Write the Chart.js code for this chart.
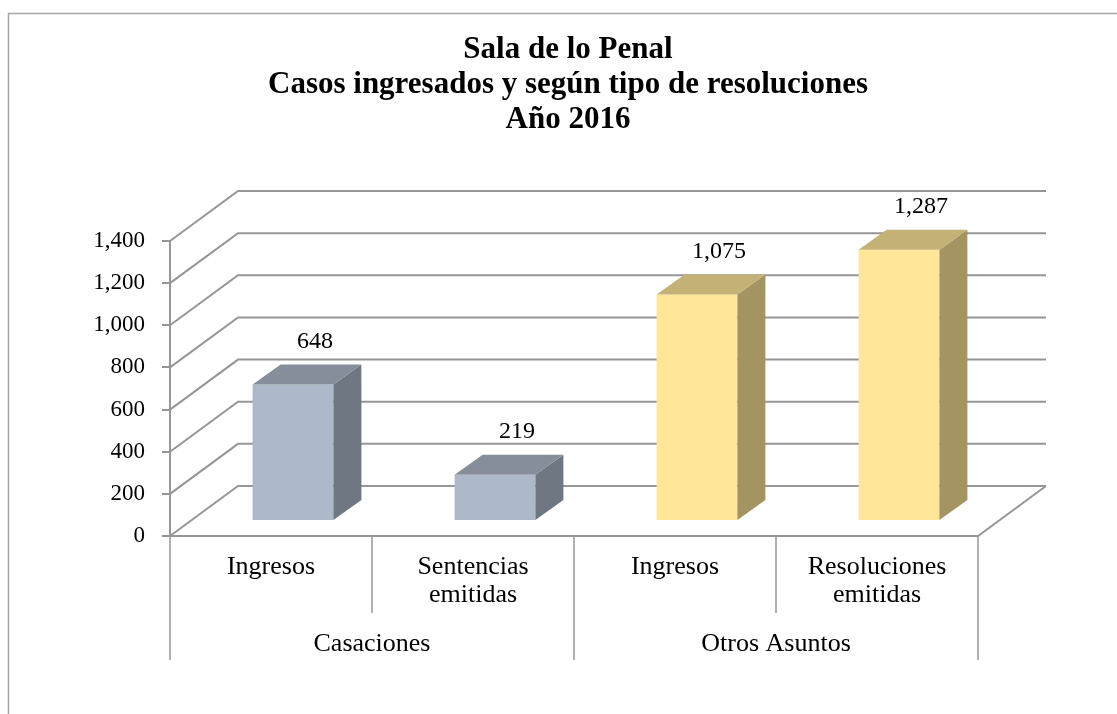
<!DOCTYPE html>
<html>
<head>
<meta charset="utf-8">
<script src="https://cdn.jsdelivr.net/npm/chart.js@4.4.0/dist/chart.umd.min.js"></script>
<style>
  body { margin: 0; background: #fff; }
  canvas { display: block; }
</style>
</head>
<body>
<canvas id="chart" width="1117" height="714"></canvas>
<script>
// Data
const titleLines = ['Sala de lo Penal', 'Casos ingresados y según tipo de resoluciones', 'Año 2016'];
const categories = ['Ingresos', ['Sentencias', 'emitidas'], 'Ingresos', ['Resoluciones', 'emitidas']];
const groups = ['Casaciones', 'Otros Asuntos'];
const groupSizes = [2, 2];
const casos = [648, 219, 1075, 1287];
const yMin = 0;
const yMax = 1400;
const yStep = 200;

// Colours of the three visible faces of each bar
const frontColors = ['#adb9ca', '#adb9ca', '#ffe699', '#ffe699'];
const sideColors = ['#6f7782', '#6f7782', '#a39461', '#a39461'];
const topColors = ['#858e9a', '#858e9a', '#c4b176', '#c4b176'];

const FONT = "'Liberation Serif', 'Times New Roman', serif";
const LINE = '#969696';
const WALL = { dx: 68, dy: -50 };   // depth of the floor / back wall
const FRONT = { dx: 22, dy: -15 };  // where the bar front sits inside the floor
const DEPTH = { dx: 28, dy: -20 };  // depth of one bar

function polygon(ctx, pts, color) {
    ctx.beginPath();
    ctx.moveTo(pts[0][0], pts[0][1]);
    for (let i = 1; i < pts.length; i++) ctx.lineTo(pts[i][0], pts[i][1]);
    ctx.closePath();
    ctx.fillStyle = color;
    ctx.fill();
}

const box3d = {
    id: 'box3d',
    beforeDraw(chart) {
        const ctx = chart.ctx;
        ctx.save();
        ctx.fillStyle = '#fff';
        ctx.fillRect(0, 0, chart.width, chart.height);
        ctx.strokeStyle = '#a6a6a6';
        ctx.lineWidth = 1.5;
        ctx.strokeRect(8.5, 13.5, chart.width + 40, chart.height + 40);
        ctx.restore();
    },
    beforeDatasetsDraw(chart) {
        const { ctx, chartArea: a, scales: { x, y } } = chart;
        ctx.save();
        ctx.strokeStyle = LINE;
        ctx.lineWidth = 2;

        // side wall diagonals and back wall grid
        y.ticks.forEach(t => {
            const py = y.getPixelForValue(t.value);
            ctx.beginPath();
            ctx.moveTo(a.left, py);
            ctx.lineTo(a.left + WALL.dx, py + WALL.dy);
            ctx.lineTo(a.right + WALL.dx, py + WALL.dy);
            ctx.stroke();
        });

        // floor edges
        ctx.beginPath();
        ctx.moveTo(a.left, a.bottom);
        ctx.lineTo(a.right, a.bottom);
        ctx.lineTo(a.right + WALL.dx, a.bottom + WALL.dy);
        ctx.stroke();

        // category dividers below the floor
        ctx.lineWidth = 1.5;
        const x2 = chart.scales.x2;
        for (let i = 0; i <= categories.length; i++) {
            const px = x.getPixelForValue(i - 0.5);
            ctx.beginPath();
            ctx.moveTo(px, a.bottom);
            ctx.lineTo(px, x.bottom);
            ctx.stroke();
        }
        let start = 0;
        [0, ...groupSizes].forEach(n => {
            start += n;
            const px = x.getPixelForValue(start - 0.5);
            ctx.beginPath();
            ctx.moveTo(px, x.bottom);
            ctx.lineTo(px, x2.bottom);
            ctx.stroke();
        });
        ctx.restore();

        // bars are drawn by the library, shifted into the floor
        ctx.save();
        ctx.translate(FRONT.dx, FRONT.dy);
    },
    afterDatasetsDraw(chart) {
        const ctx = chart.ctx;
        const meta = chart.getDatasetMeta(0);
        meta.data.forEach((bar, i) => {
            const p = bar.getProps(['x', 'y', 'base', 'width'], true);
            const l = p.x - p.width / 2, r = p.x + p.width / 2;
            const t = p.y, b = p.base;
            polygon(ctx, [[r, t], [r + DEPTH.dx, t + DEPTH.dy], [r + DEPTH.dx, b + DEPTH.dy], [r, b]], sideColors[i]);
            polygon(ctx, [[l, t], [l + DEPTH.dx, t + DEPTH.dy], [r + DEPTH.dx, t + DEPTH.dy], [r, t]], topColors[i]);
        });
        // value labels
        ctx.fillStyle = '#000';
        ctx.font = '24px ' + FONT;
        ctx.textAlign = 'center';
        ctx.textBaseline = 'middle';
        meta.data.forEach((bar, i) => {
            ctx.fillText(casos[i].toLocaleString('en-US'), bar.x + 22, bar.y + DEPTH.dy - 23);
        });
        ctx.restore();
    },
    afterDraw(chart) {
        const ctx = chart.ctx;
        ctx.save();
        ctx.fillStyle = '#000';
        ctx.font = 'bold 31px ' + FONT;
        ctx.textAlign = 'center';
        ctx.textBaseline = 'middle';
        titleLines.forEach((line, i) => ctx.fillText(line, 568, 50 + i * 35));
        ctx.restore();
    }
};

new Chart(document.getElementById('chart'), {
    type: 'bar',
    data: {
        labels: categories,
        datasets: [{
            data: casos,
            backgroundColor: frontColors,
            borderWidth: 0,
            barPercentage: 0.4,
            categoryPercentage: 1,
            clip: false
        }]
    },
    options: {
        responsive: false,
        animation: false,
        layout: { padding: { left: 0, top: 241, right: 139, bottom: 54 } },
        plugins: {
            legend: { display: false },
            title: { display: false },
            tooltip: { enabled: false }
        },
        scales: {
            y: {
                min: yMin,
                max: yMax,
                ticks: {
                    stepSize: yStep,
                    padding: 17,
                    color: '#000',
                    font: { family: FONT, size: 23 },
                    callback: v => v.toLocaleString('en-US')
                },
                grid: { drawOnChartArea: false, drawTicks: true, tickLength: 8, color: LINE, lineWidth: 2 },
                border: { display: true, color: LINE, width: 2 },
                afterFit: s => { s.width = 170; }
            },
            x: {
                offset: true,
                grid: { display: false, drawTicks: false },
                border: { display: false },
                ticks: {
                    padding: 17,
                    color: '#000',
                    maxRotation: 0,
                    font: { family: FONT, size: 26, lineHeight: '28px' }
                },
                afterFit: s => { s.height = 77; }
            },
            x2: {
                type: 'category',
                labels: groups,
                position: 'bottom',
                offset: true,
                grid: { display: false, drawTicks: false },
                border: { display: false },
                ticks: {
                    padding: 17,
                    color: '#000',
                    maxRotation: 0,
                    font: { family: FONT, size: 26, lineHeight: '28px' }
                },
                afterFit: s => { s.height = 47; }
            }
        }
    },
    plugins: [box3d]
});
</script>
</body>
</html>
